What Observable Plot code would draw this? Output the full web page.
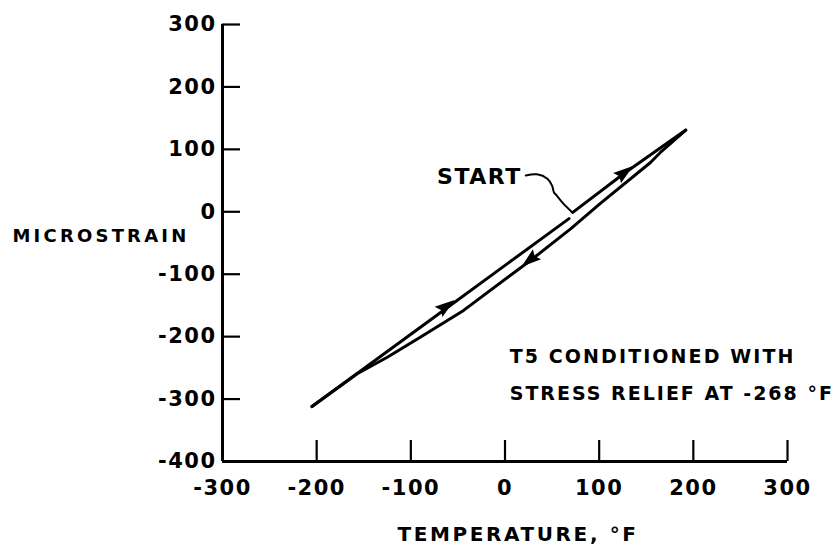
<!DOCTYPE html>
<html>
<head>
<meta charset="utf-8">
<script src="https://cdn.jsdelivr.net/npm/d3@7"></script>
<script src="https://cdn.jsdelivr.net/npm/@observablehq/plot@0.6"></script>
<style>
  html, body { margin: 0; padding: 0; background: #fff; }
  svg { display: block; }
</style>
</head>
<body>
<div id="chart"></div>
<script>
// Tick values
const xTicks = [-300, -200, -100, 0, 100, 200, 300];
const yTicks = [300, 200, 100, 0, -100, -200, -300, -400];

// Heating from START to the hot end (°F, microstrain)
const heatTemp   = [72, 126, 192];
const heatStrain = [-1, 61, 131];

// Cooling from the hot end to the cold end
const coolTemp   = [192, 165, 154.5, 101, 70, 27, -44, -90, -125, -157, -205];
const coolStrain = [131, 95, 79, 13, -27, -78, -158, -201, -233, -259.5, -312];

// Re-heating from the cold end back toward START
const returnTemp   = [-205, -60, 68];
const returnStrain = [-312, -152, -11];

// START leader
const leaderTemp   = [22, 34, 45, 50, 52, 55, 62, 71.5];
const leaderStrain = [58, 60, 53, 42, 31, 26, 13, -1];

// Arrowheads: tip and a point behind it along the curve
const arrowTipTemp    = [136.5, 18, -53];
const arrowTipStrain  = [72.5, -89, -142];
const arrowFromTemp   = [72, 27, -205];
const arrowFromStrain = [-1, -78, -312];

// Texts
const noteLines = ["T5 CONDITIONED WITH", "STRESS RELIEF AT -268 °F"];
const noteTemp = 5;
const noteStrain = [-232, -291];
const yLabel = "MICROSTRAIN";
const xLabel = "TEMPERATURE, °F";
const startLabel = "START";

const toXY = (t, s) => t.map((d, i) => ({t: d, s: s[i]}));

function arrowheads(index, scales) {
  const g = d3.create("svg:g").attr("aria-label", "arrowheads");
  const L = 20, W = 6.5;
  arrowTipTemp.forEach((t, i) => {
    const tx = scales.x(t), ty = scales.y(arrowTipStrain[i]);
    const fx = scales.x(arrowFromTemp[i]), fy = scales.y(arrowFromStrain[i]);
    const ang = Math.atan2(ty - fy, tx - fx) * 180 / Math.PI;
    g.append("path")
      .attr("d", `M0,0L${-L},${-W}L${-L * 0.85},0L${-L},${W}Z`)
      .attr("transform", `translate(${tx},${ty}) rotate(${ang})`)
      .attr("fill", "black");
  });
  return g.node();
}

const font = "'DejaVu Sans', sans-serif";
const plot = Plot.plot({
  width: 835,
  height: 552,
  marginLeft: 222,
  marginRight: 48,
  marginTop: 24,
  marginBottom: 91,
  x: {domain: [-300, 300]},
  y: {domain: [-400, 300]},
  style: {fontFamily: font, fontWeight: "bold", background: "#fff", color: "#000"},
  marks: [
    Plot.axisX({ticks: xTicks, tickSize: 0, tickPadding: 19, fontSize: 21, label: null, tickFormat: d => String(d)}),
    Plot.axisY({ticks: yTicks, tickSize: 0, tickPadding: 6, fontSize: 21, label: null, tickFormat: d => String(d)}),
    Plot.tickX(xTicks.slice(1), {x: d => d, insetTop: 416, strokeWidth: 2.2}),
    Plot.tickY(yTicks.slice(0, -1), {y: d => d, insetRight: 547, strokeWidth: 2.2}),
    Plot.ruleX([-300], {strokeWidth: 3}),
    Plot.ruleY([-400], {strokeWidth: 3}),
    Plot.line(toXY(heatTemp, heatStrain), {x: "t", y: "s", strokeWidth: 3}),
    Plot.line(toXY(coolTemp, coolStrain), {x: "t", y: "s", strokeWidth: 3}),
    Plot.line(toXY(returnTemp, returnStrain), {x: "t", y: "s", strokeWidth: 3}),
    Plot.line(toXY(leaderTemp, leaderStrain), {x: "t", y: "s", strokeWidth: 2, curve: "catmull-rom"}),
    arrowheads,
    Plot.text([startLabel], {x: leaderTemp[0], y: leaderStrain[0], dx: -4, dy: 1, textAnchor: "end", fontSize: 22}),
    Plot.text(noteLines, {x: noteTemp, y: (d, i) => noteStrain[i], textAnchor: "start", fontSize: 19}),
    Plot.text([yLabel], {frameAnchor: "left", dx: -210, dy: -7, textAnchor: "start", fontSize: 18}),
    Plot.text([xLabel], {frameAnchor: "bottom", dx: 13, dy: 79, textAnchor: "middle", fontSize: 20})
  ]
});

// letter spacing of the hand lettering
const spacing = new Map([[yLabel, 3.2], [xLabel, 2.6], [startLabel, 1.5], [noteLines[0], 2.1], [noteLines[1], 2]]);
d3.select(plot).selectAll("text").each(function() {
  const s = this.textContent;
  if (spacing.has(s)) this.style.letterSpacing = spacing.get(s) + "px";
  else if (/^-?\d+$/.test(s)) this.style.letterSpacing = "1.5px";
});
document.getElementById("chart").appendChild(plot);
</script>
</body>
</html>
